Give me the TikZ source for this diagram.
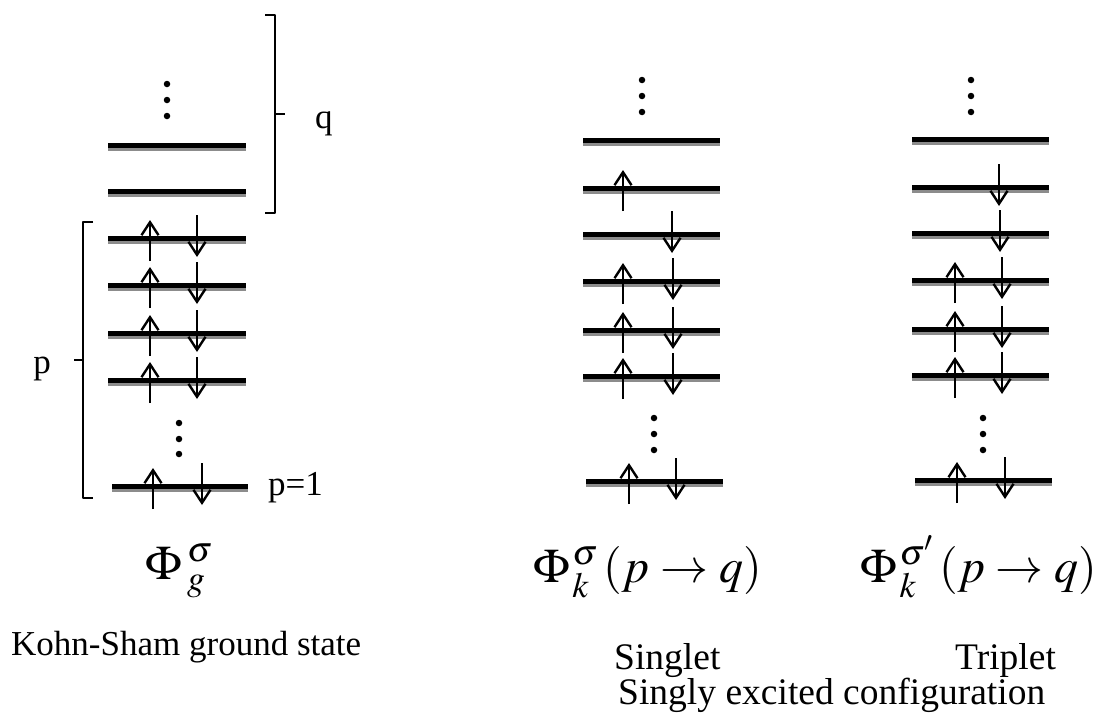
\documentclass[tikz,border=0pt]{standalone}
\usepackage{mathptmx}
\usepackage{fontspec}
\setmainfont{Liberation Serif}
\usetikzlibrary{arrows.meta}
\tikzset{
  lvltop/.style={line width=5pt, black},
  lvlbot/.style={line width=3pt, black!45},
  spin/.style={line width=2.5pt, -{Straight Barb[length=13pt,width=17pt,line width=2.4pt]}},
  brk/.style={line width=2pt, line join=round},
  dotm/.style={fill=black, circle, inner sep=0pt, minimum size=6.5pt},
  txt/.style={font=\fontsize{35}{40}\selectfont, inner sep=0pt},
  txtb/.style={font=\fontsize{37.5}{42}\selectfont, inner sep=0pt},
  mlab/.style={font=\fontsize{48}{52}\selectfont, inner sep=0pt}
}
\newcommand{\mylvl}[3]{%
  \draw[lvltop] (#1,#3-2.5) -- (#2,#3-2.5);
  \draw[lvlbot] (#1,#3+1.5) -- (#2,#3+1.5);}
\newcommand{\myup}[2]{\draw[spin] (#1,#2+20) -- (#1,#2-21);}
\newcommand{\mydown}[2]{\draw[spin] (#1,#2-26) -- (#1,#2+16);}
\begin{document}
\begin{tikzpicture}[x=1pt,y=-1pt]
\useasboundingbox (0,0) rectangle (1099,712);
% ---------- left column ----------
\foreach \y in {148,194,241,288,336,383} {\mylvl{108}{246}{\y}}
\mylvl{112}{248}{489}
\foreach \y in {241,288,336,383} {\myup{150}{\y}\mydown{197}{\y}}
\myup{153}{489}\mydown{202}{489}
\foreach \y [count=\i] in {84,100,116} {\node[dotm] (lt\i) at (167,\y) {};}
\foreach \y [count=\i] in {423,439,454} {\node[dotm] (lb\i) at (179,\y) {};}
% brackets
\draw[brk] (265,15) -- (275,15) -- (275,213) -- (265,213);
\draw[brk] (275,114) -- (285,114);
\draw[brk] (93,222) -- (83,222) -- (83,498) -- (93,498);
\draw[brk] (83,360) -- (74,360);
\node[txt, anchor=base west] (q) at (315,128) {q};
\node[txt, anchor=base] (p) at (42,373) {p};
\node[txt, anchor=base west] (p1) at (268,495) {p=1};
% ---------- middle column ----------
\foreach \y in {143,191,237,284,333,379} {\mylvl{583}{720}{\y}}
\mylvl{586}{723}{484}
\myup{623}{191}
\mydown{672}{237}
\foreach \y in {284,333,379} {\myup{623}{\y}\mydown{673}{\y}}
\myup{629}{484}\mydown{676}{484}
\foreach \y [count=\i] in {80,96,112} {\node[dotm] (mt\i) at (642,\y) {};}
\foreach \y [count=\i] in {418,434,450} {\node[dotm] (mb\i) at (654,\y) {};}
% ---------- right column ----------
\foreach \y in {142,190,236,283,332,378} {\mylvl{912}{1049}{\y}}
\mylvl{915}{1052}{483}
\mydown{999}{190}
\mydown{1000}{236}
\foreach \y in {283,332,378} {\myup{955}{\y}\mydown{1002}{\y}}
\myup{957}{483}\mydown{1005}{483}
\foreach \y [count=\i] in {80,96,112} {\node[dotm] (rt\i) at (971,\y) {};}
\foreach \y [count=\i] in {418,434,450} {\node[dotm] (rb\i) at (983,\y) {};}
% ---------- labels ----------
\node[mlab, anchor=base west] (phig) at (145,579) {$\Phi\mkern2mu{}^{\sigma}_{g}$};
\node[mlab, anchor=base west] (phis) at (533,582) {$\Phi\mkern1mu{}^{\sigma}_{k}\mkern2mu(p\rightarrow q)$};
\node[mlab, anchor=base west] (phit) at (860,582) {$\Phi\mkern1mu{}^{\sigma'}_{k}\mkern2mu(p\rightarrow q)$};
\node[txt, anchor=base west] (ks) at (11,655) {Kohn-Sham ground state};
\node[txtb, anchor=base west] (sing) at (614,669) {Singlet};
\node[txtb, anchor=base west] (trip) at (955,669) {Triplet};
\node[txtb, anchor=base west] (sec) at (618,704) {Singly excited configuration};
\end{tikzpicture}
\end{document}
